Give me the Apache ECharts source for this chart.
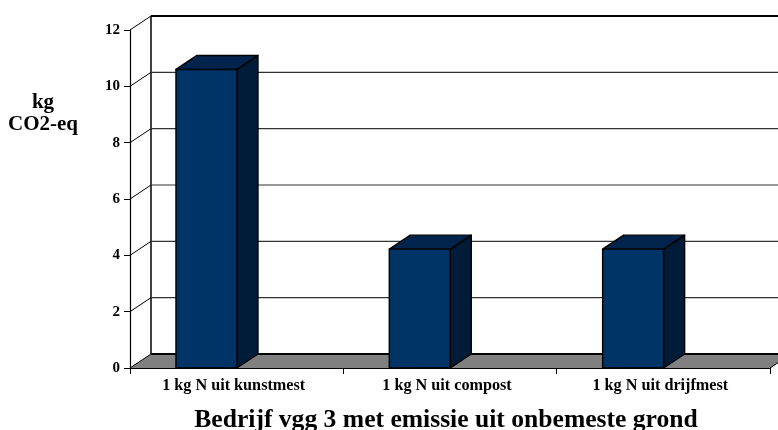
<!DOCTYPE html>
<html><head><meta charset="utf-8">
<style>html,body{margin:0;padding:0;background:#fff}#c{width:778px;height:430px}</style>
<script src="https://cdn.jsdelivr.net/npm/echarts@6/dist/echarts.min.js"></script>
</head><body><div id="c"></div>
<script>
const categories = ['1 kg N uit kunstmest', '1 kg N uit compost', '1 kg N uit drijfmest'];
const values = [10.6, 4.22, 4.22];
const gridTicks = [0, 2, 4, 6, 8, 10, 12];
const chartTitle = 'Bedrijf vgg 3 met emissie uit onbemeste grond';
const yTitle = 'kg\nCO2-eq';

const DX = 21, DY = -14, BAR_SHIFT = -30.2, BAR_W = 61;
const FONT = '"Liberation Serif","Times New Roman",serif';
const chart = echarts.init(document.getElementById('c'), null, {renderer:'canvas'});

function line(x1,y1,x2,y2,color,w){
  return {type:'line',shape:{x1,y1,x2,y2},style:{stroke:color,lineWidth:w}};
}
function poly(points,fill){
  return {type:'polygon',shape:{points},style:{fill,stroke:'#000',lineWidth:1.4,lineJoin:'round'}};
}
function renderBack(params,api){
  const cs = params.coordSys, v = api.value(0);
  const y = api.coord([0,v])[1], x0 = cs.x, x1 = cs.x+cs.width;
  const kids = [];
  if (v === 0) {
    kids.push({type:'polygon',shape:{points:[[x0,y],[x0+DX,y+DY],[x1+DX,y+DY],[x1,y]]},style:{fill:'#808080'}});
    kids.push(line(x0+DX,y+DY,x0+DX,cs.y+DY,'#000',1.5));
    kids.push(line(x1,y,x1+DX,y+DY,'#000',1));
  }
  const strong = v === 0 || v === 12;
  kids.push(line(x0,y,x0+DX,y+DY,'#000',1));
  kids.push(line(x0+DX,y+DY,x1+DX,y+DY,strong?'#000':'#333',strong?2:1.2));
  return {type:'group',children:kids};
}
function renderBar(params,api){
  const c = api.coord([api.value(0),api.value(1)]);
  const base = api.coord([api.value(0),0])[1];
  const l = c[0]+BAR_SHIFT-BAR_W/2, r = l+BAR_W, t = c[1];
  return {type:'group',children:[
    poly([[r,t],[r+DX,t+DY],[r+DX,base+DY],[r,base]],'#001c38'),
    poly([[l,t],[l+DX,t+DY],[r+DX,t+DY],[r,t]],'#00244b'),
    poly([[l,t],[r,t],[r,base],[l,base]],'#003366')
  ]};
}
const axisStyle = {show:true,lineStyle:{color:'#000',width:1.2}};
chart.setOption({
  animation:false,
  backgroundColor:'#fff',
  title:[
    {text:chartTitle,left:441,top:402,textAlign:'center',textStyle:{fontFamily:FONT,fontWeight:'bold',fontSize:25.6,color:'#000'}},
    {text:yTitle,left:38,top:87,textAlign:'center',textStyle:{fontFamily:FONT,fontWeight:'bold',fontSize:21,lineHeight:22,color:'#000'}}
  ],
  grid:{left:130,right:8,top:30,bottom:62,containLabel:false},
  xAxis:{type:'category',data:categories,boundaryGap:true,
    axisLine:axisStyle,axisTick:{show:true,alignWithLabel:false,length:6,lineStyle:{color:'#000',width:1}},
    axisLabel:{interval:0,margin:10,padding:[0,6,0,0],fontFamily:FONT,fontWeight:'bold',fontSize:16.2,color:'#000'},splitLine:{show:false}},
  yAxis:{type:'value',min:0,max:12,interval:2,
    axisLine:axisStyle,axisTick:{show:true,length:6,lineStyle:{color:'#000',width:1}},
    axisLabel:{margin:10,padding:[0,0,4,0],fontFamily:FONT,fontWeight:'bold',fontSize:15,color:'#000'},splitLine:{show:false}},
  series:[
    {type:'custom',coordinateSystem:'cartesian2d',clip:false,z:1,silent:true,renderItem:renderBack,
     encode:{y:0},data:gridTicks.map(v=>[v])},
    {type:'custom',coordinateSystem:'cartesian2d',clip:false,z:2,silent:true,renderItem:renderBar,
     encode:{x:0,y:1},data:values.map((v,i)=>[i,v])}
  ]
});
</script></body></html>
